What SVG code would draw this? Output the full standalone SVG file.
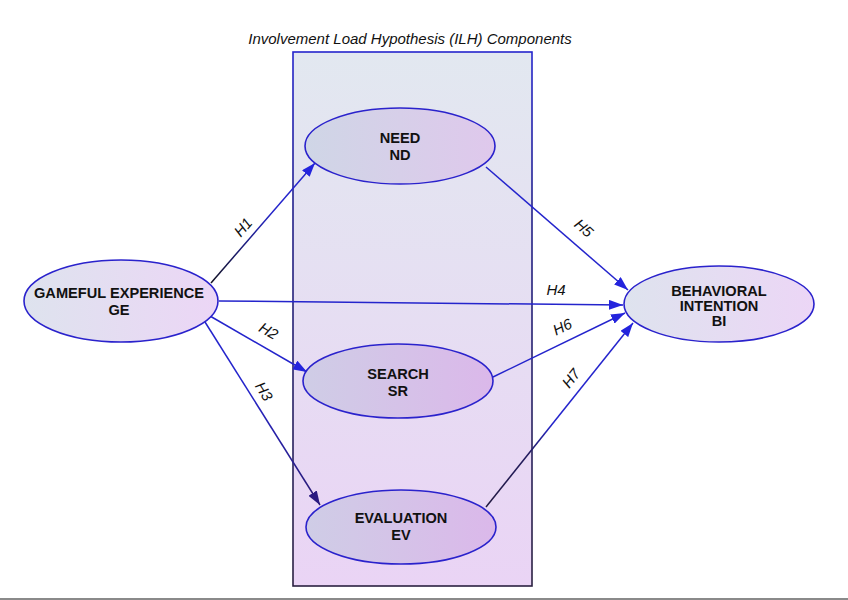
<svg xmlns="http://www.w3.org/2000/svg" width="848" height="600" viewBox="0 0 848 600">
<defs>
<style>
.node{stroke:#2a22cc;stroke-width:1.6}
.nt{font-family:"Liberation Sans",Arial,Helvetica,sans-serif;font-weight:bold;font-size:14.6px;fill:#111;text-anchor:middle}
.lbl{font-family:"Liberation Sans",Arial,Helvetica,sans-serif;font-style:italic;font-size:15px;fill:#111;text-anchor:middle;dominant-baseline:middle}
.ttl{font-family:"Liberation Sans",Arial,Helvetica,sans-serif;font-style:italic;font-size:15px;fill:#111;text-anchor:middle}
.edge{fill:none;stroke-width:1.5}
</style>
<linearGradient id="boxFill" x1="0" y1="0" x2="0" y2="1">
<stop offset="0" stop-color="#e2e8f0"/>
<stop offset="1" stop-color="#ead4f5"/>
</linearGradient>
<linearGradient id="boxStroke" x1="0" y1="0" x2="0" y2="1">
<stop offset="0" stop-color="#2424cc"/>
<stop offset="0.3" stop-color="#22208a"/>
<stop offset="1" stop-color="#2a2040"/>
</linearGradient>
<linearGradient id="gLight" x1="0" y1="0" x2="1" y2="0">
<stop offset="0" stop-color="#dee3ee"/>
<stop offset="1" stop-color="#ecd6f6"/>
</linearGradient>
<linearGradient id="gND" x1="0" y1="0" x2="1" y2="0">
<stop offset="0" stop-color="#cfd6e6"/>
<stop offset="1" stop-color="#dfc8ec"/>
</linearGradient>
<linearGradient id="gSR" x1="0" y1="0" x2="1" y2="0">
<stop offset="0" stop-color="#cfcde6"/>
<stop offset="1" stop-color="#dbb8ea"/>
</linearGradient>
<linearGradient id="eH1" gradientUnits="userSpaceOnUse" x1="211" y1="283" x2="315" y2="163">
<stop offset="0" stop-color="#111122"/>
<stop offset="0.6" stop-color="#2424cc"/>
</linearGradient>
<linearGradient id="eH3" gradientUnits="userSpaceOnUse" x1="205" y1="322" x2="320" y2="505">
<stop offset="0.35" stop-color="#2424cc"/>
<stop offset="1" stop-color="#2a1a70"/>
</linearGradient>
<linearGradient id="eH7" gradientUnits="userSpaceOnUse" x1="486" y1="507" x2="633" y2="323">
<stop offset="0" stop-color="#221a40"/>
<stop offset="0.3" stop-color="#221a60"/>
<stop offset="0.45" stop-color="#2424cc"/>
</linearGradient>
<marker id="ah" viewBox="0 0 14 10" refX="14" refY="5" markerWidth="14" markerHeight="10" markerUnits="userSpaceOnUse" orient="auto">
<path d="M0,0 L14,5 L0,10 z" fill="#2424dd"/>
</marker>
<marker id="ahDark" viewBox="0 0 14 10" refX="14" refY="5" markerWidth="14" markerHeight="10" markerUnits="userSpaceOnUse" orient="auto">
<path d="M0,0 L14,5 L0,10 z" fill="#2a1a80"/>
</marker>
</defs>
<rect x="0" y="0" width="848" height="600" fill="#ffffff"/>
<line x1="0" y1="599" x2="848" y2="599" stroke="#8a8a8a" stroke-width="2"/>

<g id="ilh-box">
<rect x="293" y="52" width="239" height="534" fill="url(#boxFill)" stroke="url(#boxStroke)" stroke-width="1.6"/>
<text x="410" y="44" class="ttl">Involvement Load Hypothesis (ILH) Components</text>
</g>

<g id="connectors">
<line class="edge" x1="211" y1="283" x2="315" y2="163" stroke="url(#eH1)" marker-end="url(#ah)"/>
<line class="edge" x1="219" y1="301" x2="623" y2="305" stroke="#2424cc" marker-end="url(#ah)"/>
<line class="edge" x1="210" y1="316" x2="307" y2="372" stroke="#2424cc" marker-end="url(#ah)"/>
<line class="edge" x1="205" y1="322" x2="320" y2="505" stroke="url(#eH3)" marker-end="url(#ahDark)"/>
<line class="edge" x1="486" y1="167" x2="628" y2="290" stroke="#2424cc" marker-end="url(#ah)"/>
<line class="edge" x1="493" y1="377" x2="625" y2="313" stroke="#2424cc" marker-end="url(#ah)"/>
<line class="edge" x1="486" y1="507" x2="633" y2="323" stroke="url(#eH7)" marker-end="url(#ah)"/>
<text class="lbl" transform="translate(244,228) rotate(-49)">H1</text>
<text class="lbl" transform="translate(268,332) rotate(30)">H2</text>
<text class="lbl" transform="translate(263,392) rotate(58)">H3</text>
<text class="lbl" transform="translate(556,291) rotate(0)">H4</text>
<text class="lbl" transform="translate(583,229) rotate(41)">H5</text>
<text class="lbl" transform="translate(563,328) rotate(-26)">H6</text>
<text class="lbl" transform="translate(572,379) rotate(-52)">H7</text>
</g>

<g id="node-GE">
<ellipse class="node" cx="121" cy="301" rx="97" ry="41" fill="url(#gLight)"/>
<text class="nt" x="119" y="298">GAMEFUL EXPERIENCE</text>
<text class="nt" x="119" y="315">GE</text>
</g>
<g id="node-ND">
<ellipse class="node" cx="400" cy="146" rx="95" ry="38" fill="url(#gND)"/>
<text class="nt" x="400" y="143">NEED</text>
<text class="nt" x="400" y="160">ND</text>
</g>
<g id="node-SR">
<ellipse class="node" cx="398" cy="381" rx="95" ry="37" fill="url(#gSR)"/>
<text class="nt" x="398" y="379">SEARCH</text>
<text class="nt" x="398" y="396">SR</text>
</g>
<g id="node-EV">
<ellipse class="node" cx="401" cy="527" rx="95" ry="37" fill="url(#gSR)"/>
<text class="nt" x="401" y="523">EVALUATION</text>
<text class="nt" x="401" y="540">EV</text>
</g>
<g id="node-BI">
<ellipse class="node" cx="719" cy="304" rx="95" ry="38" fill="url(#gLight)"/>
<text class="nt" x="719" y="296">BEHAVIORAL</text>
<text class="nt" x="719" y="311">INTENTION</text>
<text class="nt" x="719" y="326">BI</text>
</g>
</svg>
